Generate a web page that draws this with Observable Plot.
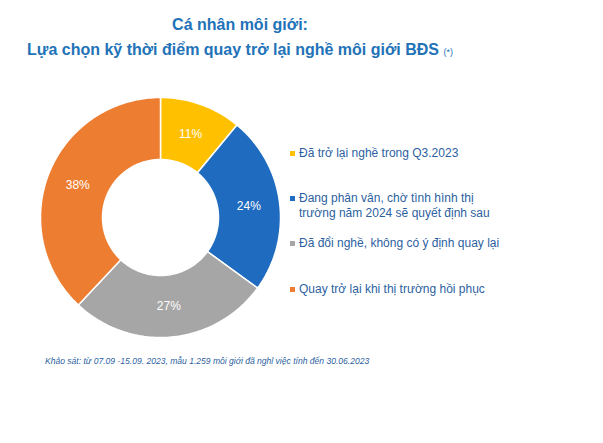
<!DOCTYPE html>
<html><head><meta charset="utf-8">
<script src="https://cdn.jsdelivr.net/npm/d3@7"></script>
<script src="https://cdn.jsdelivr.net/npm/@observablehq/plot@0.6"></script>
<style>
body{margin:0;background:#fff;font-family:"Liberation Sans",Arial,sans-serif;}
#wrap{position:relative;width:603px;height:443px;overflow:hidden;background:#fff;}
#title{position:absolute;left:0;top:12px;width:480px;text-align:center;color:#2272b8;font-weight:bold;font-size:16px;line-height:25px;}
#title small{font-size:9px;font-weight:normal;}
#chart{position:absolute;left:0;top:70px;}
.leg{position:absolute;left:290px;color:#2d5f9f;font-size:12px;line-height:15px;padding-left:9px;}
.leg i{position:absolute;left:0;top:5px;width:5px;height:5px;}
#caption{position:absolute;left:45px;top:356px;font-size:8.55px;font-style:italic;color:#2d5f9f;}
</style></head>
<body><div id="wrap">
<div id="title">Cá nhân môi giới:<br>Lựa chọn kỹ thời điểm quay trở lại nghề môi giới BĐS <small>(*)</small></div>
<div id="chart"></div>
<div id="legend"></div>
<div id="caption">Khảo sát: từ 07.09 -15.09. 2023, mẫu 1.259 môi giới đã nghỉ việc tính đến 30.06.2023</div>
</div>
<script>
const categories = [
  "Đã trở lại nghề trong Q3.2023",
  "Đang phân vân, chờ tình hình thị trường năm 2024 sẽ quyết định sau",
  "Đã đổi nghề, không có ý định quay lại",
  "Quay trở lại khi thị trường hồi phục"
];
const legendLines = [
  ["Đã trở lại nghề trong Q3.2023"],
  ["Đang phân vân, chờ tình hình thị", "trường năm 2024 sẽ quyết định sau"],
  ["Đã đổi nghề, không có ý định quay lại"],
  ["Quay trở lại khi thị trường hồi phục"]
];
const values = [11, 24, 27, 38];
const colors = ["#FFC000", "#1F6BC0", "#A6A6A6", "#ED7D31"];

const inner = 58 / 120, outer = 1;
const total = d3.sum(values);
const slices = [];
let acc = 0;
values.forEach((v, i) => {
  const a0 = acc / total * 2 * Math.PI;
  acc += v;
  const a1 = acc / total * 2 * Math.PI;
  slices.push({cat: categories[i], v, a0, a1});
});
const pts = [];
for (const s of slices) {
  const n = Math.max(8, Math.ceil((s.a1 - s.a0) / 0.02));
  const ring = [];
  for (let k = 0; k <= n; k++) {
    const a = s.a0 + (s.a1 - s.a0) * k / n;
    ring.push({cat: s.cat, x: outer * Math.sin(a), y: outer * Math.cos(a)});
  }
  for (let k = n; k >= 0; k--) {
    const a = s.a0 + (s.a1 - s.a0) * k / n;
    ring.push({cat: s.cat, x: inner * Math.sin(a), y: inner * Math.cos(a)});
  }
  ring.push(ring[0]);
  pts.push(...ring);
}
const labelData = slices.map(s => {
  const m = (s.a0 + s.a1) / 2, r = (inner + outer) / 2;
  return {x: r * Math.sin(m), y: r * Math.cos(m), text: s.v + "%"};
});

const chart = Plot.plot({
  width: 603, height: 280,
  margin: 0,
  style: {fontFamily: "Liberation Sans, Arial, sans-serif", background: "transparent"},
  x: {domain: [-160/120, 443/120], axis: null},
  y: {domain: [-133/120, 147/120], axis: null},
  color: {domain: categories, range: colors},
  marks: [
    Plot.line(pts, {x: "x", y: "y", z: "cat", fill: "cat", stroke: "white", strokeWidth: 1.5, strokeLinejoin: "miter"}),
    Plot.text(labelData, {x: "x", y: "y", text: "text", fill: "white", fontSize: 12})
  ]
});
document.getElementById("chart").appendChild(chart);

const tops = [146, 191, 236, 282];
const leg = document.getElementById("legend");
legendLines.forEach((lines, i) => {
  const d = document.createElement("div");
  d.className = "leg";
  d.style.top = tops[i] + "px";
  d.innerHTML = `<i style="background:${colors[i]}"></i>` + lines.join("<br>");
  leg.appendChild(d);
});
</script>
</body></html>
